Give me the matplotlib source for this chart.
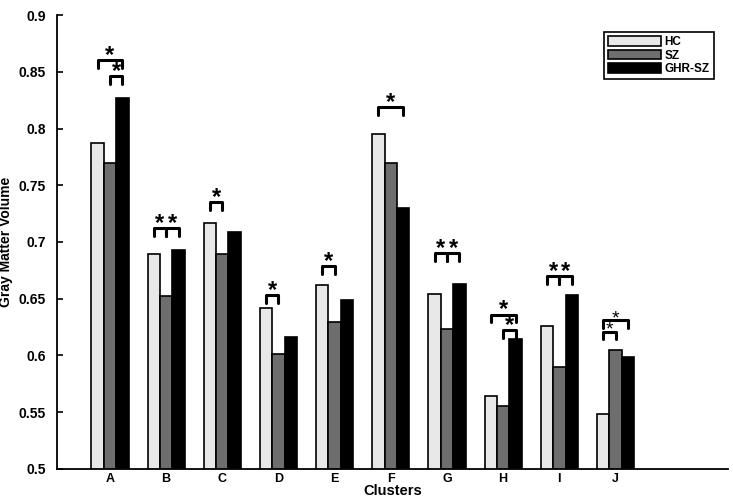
import numpy as np
import matplotlib.pyplot as plt
from matplotlib.patches import Patch

plt.rcParams['font.family'] = ['Liberation Sans', 'DejaVu Sans']

clusters = ['A', 'B', 'C', 'D', 'E', 'F', 'G', 'H', 'I', 'J']
hc = [0.787, 0.689, 0.717, 0.642, 0.662, 0.795, 0.654, 0.564, 0.626, 0.548]
sz = [0.770, 0.652, 0.689, 0.601, 0.629, 0.770, 0.623, 0.555, 0.590, 0.605]
ghr = [0.827, 0.693, 0.709, 0.616, 0.649, 0.730, 0.663, 0.614, 0.653, 0.599]

# significance brackets: (cluster index, bar from, bar to, height)
sig = [(0, 0, 2, 0.860), (0, 1, 2, 0.846),
       (1, 0, 1, 0.712), (1, 1, 2, 0.712),
       (2, 0, 1, 0.735),
       (3, 0, 1, 0.653),
       (4, 0, 1, 0.679),
       (5, 0, 2, 0.819),
       (6, 0, 1, 0.690), (6, 1, 2, 0.690),
       (7, 0, 2, 0.636), (7, 1, 2, 0.622),
       (8, 0, 1, 0.670), (8, 1, 2, 0.670),
       (9, 0, 2, 0.631), (9, 0, 1, 0.621)]

fig = plt.figure(figsize=(7.33, 5.03), dpi=100)
ax = fig.add_axes([0.078, 0.068, 0.915, 0.902])

x = np.arange(1, len(clusters) + 1)
w = 0.22
colors = ['#e8e8e8', '#6e6e6e', '#000000']
series = [hc, sz, ghr]
for i, vals in enumerate(series):
    ax.bar(x + (i - 1) * w, vals, w, color=colors[i], edgecolor='black',
           linewidth=1.2, zorder=2)

for ci, a, b, h in sig:
    x0 = x[ci] + (a - 1) * w
    x1 = x[ci] + (b - 1) * w
    d = 0.007
    ax.plot([x0, x0, x1, x1], [h - d, h, h, h - d], color='black', lw=2.2,
            solid_capstyle='round', solid_joinstyle='round', zorder=3)
    thin = ci == 9
    ax.text((x0 + x1) / 2, h - 0.006, '*', ha='center', va='bottom',
            fontsize=17 if not thin else 14,
            fontweight='normal' if thin else 'bold', zorder=3)

ax.set_xlim(0.06, 12)
ax.set_ylim(0.5, 0.9)
ax.set_yticks(np.arange(0.5, 0.901, 0.05))
ax.set_yticklabels(['0.5', '0.55', '0.6', '0.65', '0.7', '0.75', '0.8', '0.85', '0.9'],
                   fontweight='bold', fontsize=10)
ax.set_xticks(x)
ax.set_xticklabels(clusters, fontweight='bold', fontsize=9)
ax.tick_params(axis='y', direction='in', length=4, width=1.2, pad=8)
ax.tick_params(axis='x', length=0, pad=3)
ax.spines['top'].set_visible(False)
ax.spines['right'].set_visible(False)
ax.spines['left'].set_linewidth(1.3)
ax.spines['bottom'].set_linewidth(1.3)
ax.set_ylabel('Gray Matter Volume', fontweight='bold', fontsize=10, labelpad=4)
ax.set_xlabel('Clusters', fontweight='bold', fontsize=10.5, labelpad=-1)

handles = [Patch(facecolor=c, edgecolor='black', linewidth=1.2) for c in colors]
leg = ax.legend(handles, ['HC', 'SZ', 'GHR-SZ'], loc='upper right',
                bbox_to_anchor=(0.988, 0.975), prop={'weight': 'bold', 'size': 8.5},
                handlelength=4.5, handleheight=0.9, handletextpad=0.3,
                labelspacing=0.1, borderpad=0.35, fancybox=False,
                edgecolor='black', framealpha=1)
leg.get_frame().set_linewidth(1.2)

fig.savefig('out.png', dpi=100)
